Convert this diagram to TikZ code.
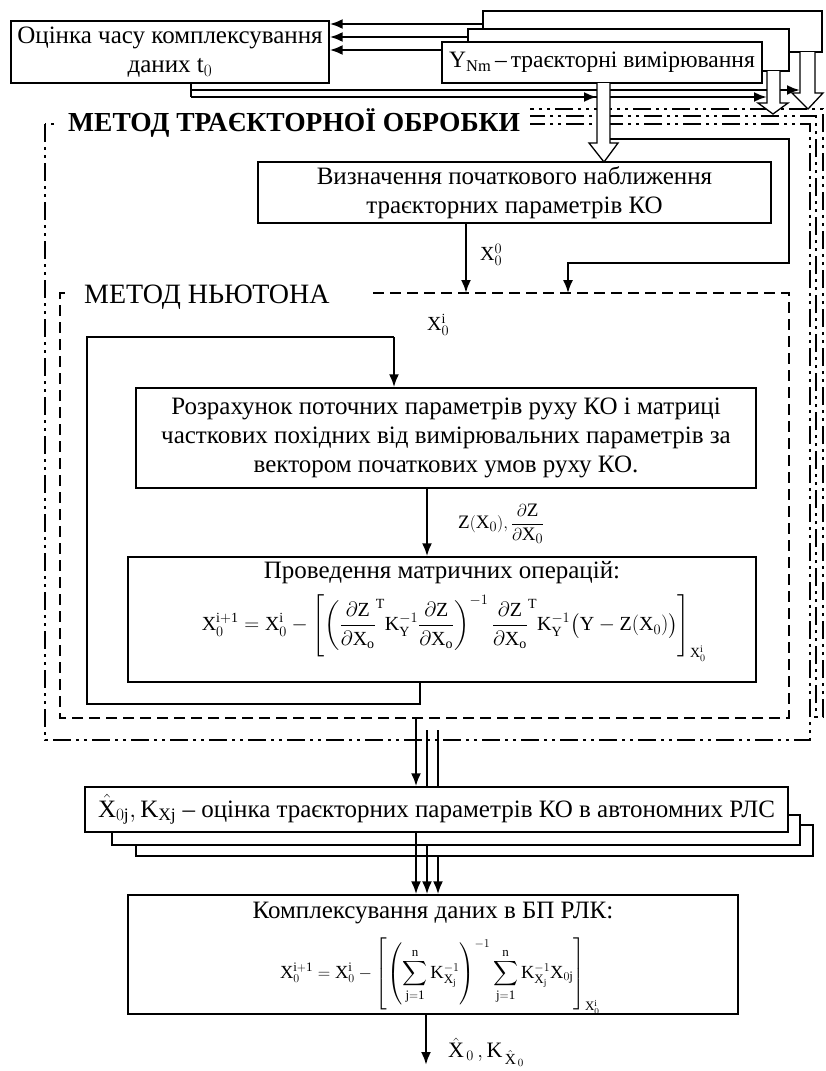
\documentclass[tikz,border=0pt]{standalone}
\usepackage{amsmath}
\usepackage{fontspec}
\setmainfont{Liberation Serif}
\usetikzlibrary{arrows.meta}
\tikzset{
 box/.style={draw, line width=1.3pt, fill=white, inner sep=0pt},
 txt/.style={inner sep=0pt, font=\fontsize{25}{29}\selectfont, align=center},
 mtxt/.style={inner sep=0pt, font=\fontsize{20}{24}\selectfont},
 arrw/.style={line width=2.4pt, -{Latex[length=13pt,width=10pt]}},
 thinarr/.style={line width=1.6pt, -{Latex[length=13pt,width=10pt]}},
 wline/.style={line width=2.2pt},
 lline/.style={line width=1.5pt},
 hollow/.style={draw, line width=1.3pt, fill=white},
 ddframe/.style={line width=2.4pt, dash pattern=on 18pt off 5pt on 3pt off 5pt on 3pt off 5pt},
 nframe/.style={line width=2.4pt, dash pattern=on 11pt off 6pt},
}
\begin{document}
\begin{tikzpicture}[x=1pt,y=-1pt]
\useasboundingbox (0,0) rectangle (825,1071);
% processing frames (stacked copies)
\draw[ddframe, fill=white] (300,109) rectangle (823,717);
\draw[ddframe, fill=white] (300,116) rectangle (816,717);
\draw[ddframe, fill=white] (45,124) rectangle (810,740);
\draw[nframe] (373,293) -- (789,293) -- (789,718) -- (60,718) -- (60,293) -- (67,293);
% titles
\node[fill=white, font=\fontsize{27.5}{31}\selectfont\bfseries, anchor=west, inner xsep=10pt, inner ysep=0pt, minimum height=36pt] (T1) at (58,123) {МЕТОД ТРАЄКТОРНОЇ ОБРОБКИ};
\node[font=\fontsize{28}{32}\selectfont, anchor=west, inner sep=0pt] (T2) at (84,297) {МЕТОД НЬЮТОНА};
% top boxes
\node[box, minimum width=318pt, minimum height=62pt, txt] (A) at (170,52) {Оцінка часу комплексування\\даних $\mathrm{t}_0$};
\coordinate (yb1) at (483,24);
\coordinate (ym1) at (468,37);
\coordinate (yf1) at (442,50);
\draw[arrw] (yb1) -- (yb1 -| A.east);
\draw[arrw] (ym1) -- (ym1 -| A.east);
\draw[arrw] (yf1) -- (yf1 -| A.east);
\coordinate (t0) at (191,83);
\coordinate (t1) at (191,90);
\coordinate (t2) at (191,97);
\coordinate (bs) at (800,90);
\coordinate (ms) at (767,97);
\coordinate (fs) at (597,97);
\draw[wline] (t0) -- (t2);
\draw[arrw] (t1) -- (bs);
\draw[arrw] (t2) -- (ms);
\draw[arrw] (t2) -- (fs);
\node[box, minimum width=339pt, minimum height=41pt] (Yb) at (652.5,31.5) {};
\node[box, minimum width=321pt, minimum height=42pt] (Ym) at (628.5,50) {};
\node[box, minimum width=320pt, minimum height=41pt, txt, font=\fontsize{23.5}{27}\selectfont] (Yf) at (602,62.5) {$\mathrm{Y}_{\mathrm{Nm}}$\,--\,траєкторні вимірювання};
% hollow arrows
\path[hollow] (597,83) -- (597,143) -- (589,143) -- (604,162) -- (618,143) -- (610,143) -- (610,83);
\path[hollow] (767,71) -- (767,103) -- (758,103) -- (773,114) -- (788,103) -- (780,103) -- (780,71);
\path[hollow] (800,52) -- (800,93) -- (792,93) -- (808,109) -- (823,93) -- (815,93) -- (815,52);
% initial approximation
\node[box, txt, minimum width=513pt, minimum height=61pt] (B) at (514.5,192.5) {Визначення початкового наближення\\траєкторних параметрів КО};
\coordinate (fb) at (610,139);
\coordinate (fr) at (789,263);
\coordinate (fe) at (568,293);
\draw[thinarr] (fb) -| (fr) -| (fe);
\coordinate (n1) at (466,293);
\draw[arrw] (n1 |- B.south) -- (n1);
\node[mtxt, anchor=west] (lx00) at (480,255) {$\mathrm{X}_0^0$};
% Newton
\node[mtxt, anchor=west] (lx0i) at (427,325) {$\mathrm{X}_0^{\mathrm{i}}$};
\node[box, txt, minimum width=620pt, minimum height=100pt] (C) at (446,438) {Розрахунок поточних параметрів руху КО і матриці\\часткових похідних від вимірювальних параметрів за\\вектором початкових умов руху КО.};
\node[box, minimum width=628pt, minimum height=125pt] (D) at (442,619.5) {};
\node[txt] (Dt) at (442,573) {Проведення матричних операцій:};
\node[mtxt] (Df) at (454,628) {$\displaystyle \mathrm{X}_0^{\mathrm{i+1}} = \mathrm{X}_0^{\mathrm{i}} - \left[\left(\frac{\partial \mathrm{Z}}{\partial \mathrm{X}_\mathrm{o}}^{\mathrm{T}} \mathrm{K}_\mathrm{Y}^{-1}\frac{\partial \mathrm{Z}}{\partial \mathrm{X}_\mathrm{o}}\right)^{-1} \frac{\partial \mathrm{Z}}{\partial \mathrm{X}_\mathrm{o}}^{\mathrm{T}} \mathrm{K}_\mathrm{Y}^{-1}\bigl(\mathrm{Y}-\mathrm{Z}(\mathrm{X}_0)\bigr)\right]_{\mathrm{X}_0^{\mathrm{i}}}$};
\coordinate (cd) at (427,0);
\draw[arrw] (cd |- C.south) -- (cd |- D.north);
\node[mtxt, anchor=west, font=\fontsize{19}{23}\selectfont] (lz) at (458,524) {$\mathrm{Z}(\mathrm{X}_0),\displaystyle\frac{\partial \mathrm{Z}}{\partial \mathrm{X}_0}$};
\coordinate (l1) at (420,704);
\coordinate (l2) at (87,337);
\coordinate (l3) at (394,337);
\draw[lline] (l1 |- D.south) -- (l1) -| (l2) -- (l3);
\draw[arrw] (l3) -- (l3 |- C.north);
% autonomous estimates
\node[box, minimum width=677pt, minimum height=31pt] (E2) at (474.5,840.5) {};
\node[box, minimum width=688pt, minimum height=30pt] (E1) at (456,830) {};
\node[box, txt, minimum width=703pt, minimum height=45pt] (E) at (436.5,809.5) {$\hat{\mathrm{X}}_{0\mathrm{j}},\mathrm{K}_{\mathrm{Xj}}$ -- оцінка траєкторних параметрів КО в автономних РЛС};
\coordinate (o1) at (416,718);
\coordinate (o2) at (427,730);
\coordinate (o3) at (438,730);
\draw[arrw] (o1) -- (o1 |- E.north);
\draw[lline] (o2) -- (o2 |- E.north);
\draw[lline] (o3) -- (o3 |- E.north);
% fusion
\node[box, minimum width=610pt, minimum height=119pt] (F) at (433,954.5) {};
\node[txt] (Ft) at (433,913) {Комплексування даних в БП РЛК:};
\node[mtxt, font=\fontsize{18.5}{22}\selectfont] (Ff) at (440,976) {$\displaystyle \mathrm{X}_0^{\mathrm{i+1}} = \mathrm{X}_0^{\mathrm{i}} - \left[\left(\sum_{\mathrm{j=1}}^{\mathrm{n}} \mathrm{K}_{\mathrm{X_j}}^{-1}\right)^{-1} \sum_{\mathrm{j=1}}^{\mathrm{n}} \mathrm{K}_{\mathrm{X_j}}^{-1}\mathrm{X}_{0\mathrm{j}}\right]_{\mathrm{X}_0^{\mathrm{i}}}$};
\draw[arrw] (o1 |- E.south) -- (o1 |- F.north);
\draw[arrw] (o2 |- E1.south) -- (o2 |- F.north);
\draw[arrw] (o3 |- E2.south) -- (o3 |- F.north);
\coordinate (out) at (426,1065);
\draw[arrw] (out |- F.south) -- (out);
\node[mtxt, anchor=west, font=\fontsize{22}{26}\selectfont] (lout) at (448,1052) {$\hat{\mathrm{X}}_{\,0}\,,\mathrm{K}_{\,\hat{\mathrm{X}}_{\,0}}$};
\end{tikzpicture}
\end{document}
